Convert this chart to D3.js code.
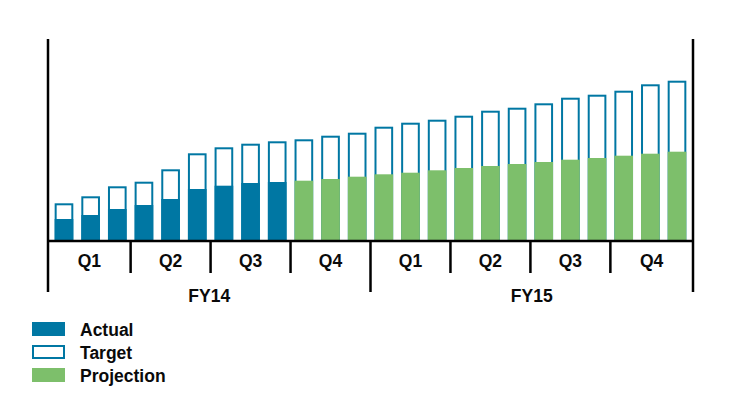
<!DOCTYPE html>
<html><head><meta charset="utf-8">
<script src="https://cdn.jsdelivr.net/npm/d3@7"></script>
<style>body{margin:0;background:#fff}svg{display:block}text{font-family:"Liberation Sans",Arial,sans-serif;font-weight:bold;fill:#0a0a0a}</style>
</head><body>
<svg id="c" width="741" height="404"></svg>
<script>
const months = d3.range(24);
const quarters = ["Q1","Q2","Q3","Q4","Q1","Q2","Q3","Q4"];
const years = ["FY14","FY15"];
const target = [37.7,44.7,54.7,59.3,71.7,87.7,93.7,97.3,99.7,101.7,105.3,108.3,114.3,118.3,121.3,125.3,130.3,133.3,137.7,143.3,146.3,150.3,156.7,160.3];
const actual = [22,26,32,36,42,52,55.3,58,59];
const projection = [null,null,null,null,null,null,null,null,null,60.3,62,64.3,66.7,68.3,70.7,73,75,77,79,81.3,83,85.3,87.3,89.3];
const legendItems = ["Actual","Target","Projection"];

const BLUE = "#0077a3", GREEN = "#7dbf6b";
const svg = d3.select("#c");
const leftX = 48, rightX = 693, baseY = 241, topY = 39;
const x = d3.scaleBand().domain(months).range([leftX, rightX]).paddingInner(0.3).paddingOuter(0.25);
const y = d3.scaleLinear().domain([0, 200]).range([baseY, baseY - 200]);
const bw = x.bandwidth();

// target outlines
svg.append("g").selectAll("rect").data(target).join("rect")
  .attr("x", (d,i) => x(i) + 1).attr("y", d => y(d) + 1)
  .attr("width", bw - 2).attr("height", d => baseY - y(d) - 1)
  .attr("fill", "none").attr("stroke", BLUE).attr("stroke-width", 2);
// actual
svg.append("g").selectAll("rect").data(actual).join("rect")
  .attr("x", (d,i) => x(i)).attr("y", d => y(d))
  .attr("width", bw).attr("height", d => baseY - y(d)).attr("fill", BLUE);
// projection
svg.append("g").selectAll("rect").data(projection.map((v,i)=>({v,i})).filter(d=>d.v!=null)).join("rect")
  .attr("x", d => x(d.i)).attr("y", d => y(d.v))
  .attr("width", bw).attr("height", d => baseY - y(d.v)).attr("fill", GREEN);

// axes
const ax = svg.append("g").attr("stroke", "#000").attr("stroke-width", 2.5);
ax.append("line").attr("x1", leftX).attr("x2", rightX).attr("y1", baseY).attr("y2", baseY);
const qBound = i => x(i) - x.step() * x.paddingInner() / 2;
const qEdges = [leftX].concat(d3.range(1, 8).map(q => qBound(q * 3))).concat([rightX]);
[leftX, rightX].forEach(px => ax.append("line").attr("x1", px).attr("x2", px).attr("y1", topY).attr("y2", 292));
d3.range(1, 8).forEach(q => {
  const px = qBound(q * 3);
  ax.append("line").attr("x1", px).attr("x2", px).attr("y1", baseY).attr("y2", q === 4 ? 292 : 273);
});
quarters.forEach((q, i) => {
  svg.append("text").attr("x", (qEdges[i] + qEdges[i+1]) / 2).attr("y", 267)
    .attr("text-anchor", "middle").attr("font-size", 17.5).text(q);
});
const yEdges = [leftX, qEdges[4], rightX];
years.forEach((t, i) => {
  svg.append("text").attr("x", (yEdges[i] + yEdges[i+1]) / 2).attr("y", 302)
    .attr("text-anchor", "middle").attr("font-size", 17.5).text(t);
});

// legend
const lg = svg.append("g");
legendItems.forEach((t, i) => {
  const ly = 322 + i * 23;
  if (t === "Target") {
    lg.append("rect").attr("x", 33).attr("y", ly + 1).attr("width", 31).attr("height", 12)
      .attr("fill", "none").attr("stroke", BLUE).attr("stroke-width", 2);
  } else {
    lg.append("rect").attr("x", 32).attr("y", ly).attr("width", 33).attr("height", 14)
      .attr("fill", t === "Actual" ? BLUE : GREEN);
  }
  lg.append("text").attr("x", 80).attr("y", ly + 14).attr("font-size", 17.5).text(t);
});
</script>
</body></html>
